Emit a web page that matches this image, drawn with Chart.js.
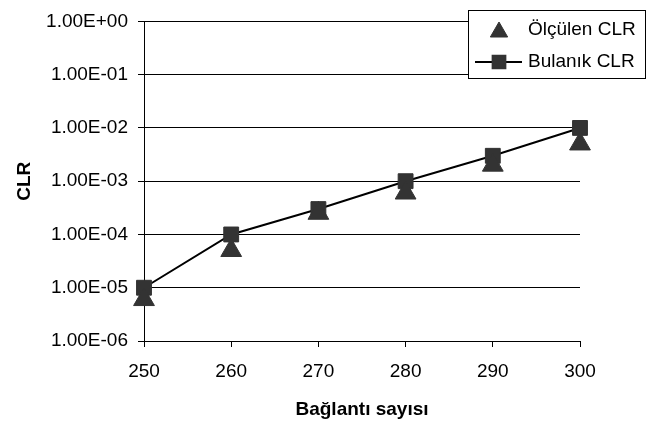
<!DOCTYPE html>
<html>
<head>
<meta charset="utf-8">
<script src="https://cdn.jsdelivr.net/npm/chart.js@4/dist/chart.umd.min.js"></script>
<style>
  html, body { margin: 0; padding: 0; background: #fff; }
  #wrap { width: 660px; height: 423px; }
</style>
</head>
<body>
<div id="wrap"><canvas id="clrChart"></canvas></div>
<script>
// Bağlantı sayısı (x) kategorileri
const baglanti = ["250", "260", "270", "280", "290", "300"];
// Ölçülen CLR (üçgenler)
const olculen = [6e-6, 5e-5, 2.5e-4, 6e-4, 2e-3, 5e-3];
// Bulanık CLR (kareler + çizgi)
const bulanik = [1e-5, 1e-4, 3e-4, 1e-3, 3e-3, 1e-2];
// Y ekseni etiketleri (logaritmik, on katlar)
const yTicks = [1e-6, 1e-5, 1e-4, 1e-3, 1e-2, 1e-1, 1e0];

const FONT = "'Liberation Sans', Arial, sans-serif";
const MARK = "#333333";

// 1.00E-06 biçimi
function sciLabel(v) {
  const e = Math.round(Math.log10(v));
  const sign = e < 0 ? "-" : "+";
  return "1.00E" + sign + String(Math.abs(e)).padStart(2, "0");
}

// Kutulu lejant (grafik alanının sağ üstünde)
const boxLegend = {
  id: "boxLegend",
  afterDraw(chart) {
    const ctx = chart.ctx;
    const x0 = 468, y0 = 10, w = 177, h = 68;
    ctx.save();
    ctx.fillStyle = "#fff";
    ctx.fillRect(x0, y0, w, h);
    ctx.strokeStyle = "#000";
    ctx.lineWidth = 1;
    ctx.strokeRect(x0 + 0.5, y0 + 0.5, w, h);

    ctx.font = "19px " + FONT;
    ctx.textBaseline = "middle";
    ctx.textAlign = "left";

    chart.data.datasets.forEach((ds, i) => {
      const cy = y0 + 20 + i * 32;
      if (ds.showLine) {
        ctx.strokeStyle = "#000";
        ctx.lineWidth = 2;
        ctx.beginPath();
        ctx.moveTo(475, cy);
        ctx.lineTo(522, cy);
        ctx.stroke();
      }
      ctx.fillStyle = MARK;
      ctx.strokeStyle = MARK;
      Chart.helpers.drawPoint(ctx, {
        pointStyle: ds.pointStyle,
        radius: ds.pointStyle === "triangle" ? 10 : 9,
        rotation: 0,
        borderWidth: 1
      }, 499, cy + (ds.pointStyle === "triangle" ? 2 : 0));
      ctx.fillStyle = "#000";
      ctx.fillText(ds.label, 528, cy);
    });
    ctx.restore();
  }
};

new Chart(document.getElementById("clrChart"), {
  type: "line",
  data: {
    labels: baglanti,
    datasets: [
      {
        label: "Ölçülen CLR",
        data: olculen,
        showLine: false,
        pointStyle: "triangle",
        pointRadius: 12,
        pointBackgroundColor: MARK,
        pointBorderColor: MARK,
        pointBorderWidth: 1
      },
      {
        label: "Bulanık CLR",
        data: bulanik,
        showLine: true,
        borderColor: "#000",
        borderWidth: 2,
        pointStyle: "rect",
        pointRadius: 10.5,
        pointBackgroundColor: MARK,
        pointBorderColor: MARK,
        pointBorderWidth: 1
      }
    ]
  },
  options: {
    responsive: true,
    maintainAspectRatio: false,
    animation: false,
    layout: { padding: { top: 18, right: 80, bottom: 0, left: 0 } },
    plugins: {
      legend: { display: false },
      tooltip: { enabled: false }
    },
    scales: {
      x: {
        type: "category",
        offset: false,
        grid: {
          drawOnChartArea: false,
          drawTicks: true,
          tickLength: 6,
          color: "#000"
        },
        border: { color: "#000", width: 1 },
        ticks: {
          color: "#000",
          padding: 13,
          maxRotation: 0,
          font: { family: FONT, size: 19 }
        },
        title: {
          display: true,
          text: "Bağlantı sayısı",
          color: "#000",
          padding: { top: 0, bottom: 2 },
          font: { family: FONT, size: 19, weight: "bold" }
        },
        afterFit(scale) { scale.height = 82; }
      },
      y: {
        type: "logarithmic",
        min: 1e-6,
        max: 1,
        grid: {
          color: "#000",
          lineWidth: 1,
          drawTicks: true,
          tickLength: 6
        },
        border: { color: "#000", width: 1 },
        ticks: {
          color: "#000",
          padding: 10,
          font: { family: FONT, size: 19 },
          callback: (v) => sciLabel(v)
        },
        afterBuildTicks(scale) {
          scale.ticks = yTicks.map((v) => ({ value: v }));
        },
        title: {
          display: true,
          text: "CLR",
          color: "#000",
          padding: { top: 13, bottom: 0 },
          font: { family: FONT, size: 19, weight: "bold" }
        },
        afterFit(scale) { scale.width = 144; }
      }
    }
  },
  plugins: [boxLegend]
});
</script>
</body>
</html>
